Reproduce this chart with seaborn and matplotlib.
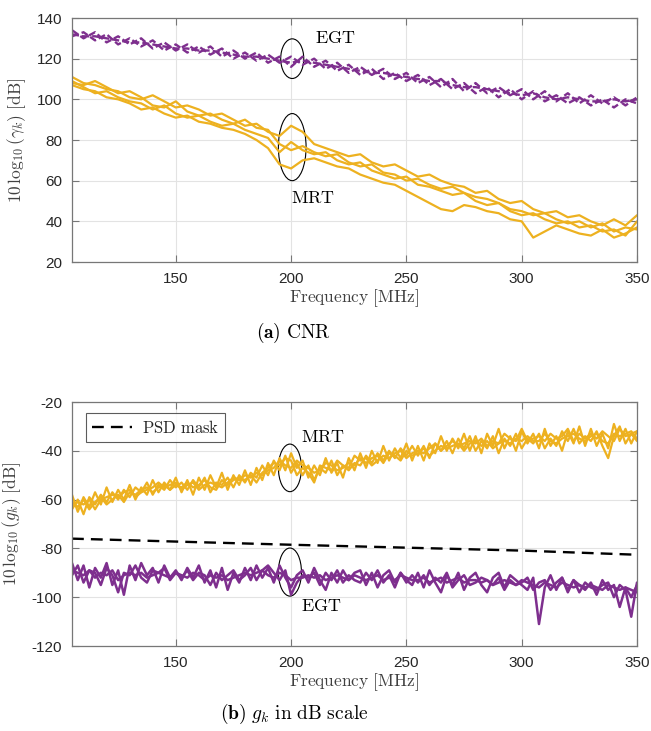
import numpy as np
import pandas as pd
import matplotlib
matplotlib.use("Agg")
import matplotlib.pyplot as plt
import seaborn as sns
from matplotlib.patches import Ellipse

# ---------------- data ----------------
freq_top = np.arange(105, 351, 5)          # 50 points
freq_bot = np.arange(105, 350.1, 2.5)      # 99 points

cnr_mrt_1 = [111, 108, 107, 105, 104, 101, 100, 102, 99, 96,
             97, 95, 92, 93, 90, 87, 88, 84, 82, 87,
             84, 78, 76, 74, 72, 73, 69, 67, 68, 65,
             62, 63, 60, 58, 57, 54, 55, 51, 49, 50,
             46, 44, 45, 42, 43, 40, 38, 41, 38, 43]
cnr_mrt_2 = [108, 107, 109, 106, 103, 104, 101, 97, 96, 99,
             94, 92, 93, 90, 88, 90, 86, 85, 78, 75,
             77, 74, 72, 73, 69, 67, 68, 64, 63, 60,
             61, 58, 56, 57, 54, 52, 51, 49, 46, 45,
             43, 44, 41, 39, 40, 37, 39, 35, 37, 36]
cnr_mrt_3 = [107, 105, 104, 101, 100, 98, 95, 96, 93, 91,
             92, 89, 88, 86, 85, 83, 80, 76, 68, 66,
             70, 71, 69, 67, 66, 63, 61, 59, 58, 55,
             52, 49, 46, 45, 48, 47, 45, 44, 41, 40,
             32, 35, 38, 36, 34, 33, 36, 32, 34, 37]
cnr_mrt_4 = [109, 106, 103, 104, 101, 99, 98, 95, 97, 93,
             91, 92, 89, 87, 88, 85, 83, 81, 74, 79,
             75, 73, 74, 70, 68, 69, 65, 63, 61, 62,
             58, 57, 55, 53, 54, 50, 48, 49, 45, 43,
             44, 41, 39, 40, 37, 38, 35, 36, 33, 40]

cnr_egt_1 = [134, 130, 133, 128, 131, 127, 130, 125, 128, 124,
             127, 123, 126, 121, 124, 120, 123, 118, 121, 116,
             121, 116, 119, 114, 117, 112, 115, 110, 113, 109,
             112, 107, 110, 105, 108, 103, 106, 101, 105, 100,
             104, 99, 102, 98, 101, 97, 100, 96, 100, 98]
cnr_egt_2 = [131, 133, 129, 132, 127, 130, 126, 129, 124, 127,
             123, 126, 122, 125, 120, 123, 119, 122, 118, 121,
             117, 120, 115, 118, 113, 116, 112, 115, 110, 113,
             108, 111, 106, 110, 104, 108, 103, 106, 102, 105,
             100, 104, 99, 103, 98, 102, 98, 101, 97, 101]
cnr_egt_3 = [132, 131, 131, 130, 129, 128, 128, 127, 126, 125,
             125, 124, 124, 123, 122, 121, 121, 120, 119, 118,
             119, 118, 117, 116, 115, 114, 113, 113, 112, 111,
             110, 109, 109, 107, 106, 106, 105, 104, 103, 102,
             103, 101, 100, 101, 100, 99, 99, 100, 99, 100]

g_mrt_1 = [-58, -65, -59, -63, -57, -62, -55, -61, -56, -60,
           -54, -60, -55, -58, -52, -57, -53, -56, -51, -57,
           -52, -58, -51, -56, -50, -55, -49, -56, -50, -54,
           -48, -54, -47, -52, -45, -50, -43, -48, -41, -47,
           -44, -51, -46, -50, -43, -49, -45, -51, -43, -48,
           -41, -47, -40, -45, -38, -44, -39, -43, -37, -44,
           -38, -44, -37, -41, -34, -40, -35, -39, -33, -40,
           -34, -41, -33, -38, -31, -39, -34, -40, -32, -37,
           -33, -39, -31, -38, -34, -40, -32, -37, -30, -38,
           -31, -38, -33, -39, -29, -36, -31, -37, -32]
g_mrt_2 = [-64, -60, -66, -59, -62, -58, -61, -57, -60, -56,
           -59, -55, -57, -53, -58, -54, -56, -52, -55, -53,
           -56, -52, -55, -51, -57, -53, -54, -51, -55, -50,
           -53, -49, -51, -46, -50, -44, -48, -42, -49, -45,
           -50, -46, -52, -47, -49, -44, -50, -46, -48, -45,
           -46, -42, -45, -41, -44, -40, -43, -39, -42, -38,
           -42, -38, -43, -37, -40, -36, -41, -35, -39, -34,
           -40, -36, -39, -34, -41, -35, -38, -33, -39, -35,
           -37, -33, -39, -35, -38, -32, -36, -31, -37, -34,
           -36, -32, -38, -43, -34, -30, -37, -33, -36]
g_mrt_3 = [-61, -63, -60, -64, -61, -59, -62, -60, -58, -61,
           -57, -58, -56, -55, -57, -55, -54, -56, -54, -55,
           -53, -55, -54, -52, -55, -56, -52, -54, -52, -51,
           -52, -50, -53, -49, -47, -45, -46, -43, -44, -50,
           -47, -49, -53, -46, -47, -48, -44, -46, -47, -42,
           -44, -43, -46, -44, -42, -43, -41, -40, -43, -41,
           -40, -41, -39, -37, -40, -38, -36, -38, -37, -36,
           -37, -35, -38, -36, -37, -33, -35, -36, -31, -36,
           -35, -34, -36, -33, -35, -34, -31, -36, -33, -35,
           -33, -35, -32, -34, -36, -31, -34, -33, -32]
g_mrt_4 = [-63, -61, -62, -60, -64, -60, -59, -58, -59, -57,
           -56, -59, -57, -56, -55, -53, -55, -54, -53, -56,
           -54, -53, -56, -54, -53, -54, -55, -53, -51, -52,
           -50, -51, -49, -50, -48, -47, -44, -46, -47, -44,
           -46, -47, -49, -48, -45, -46, -48, -47, -45, -46,
           -43, -45, -43, -42, -45, -41, -42, -44, -40, -42,
           -41, -39, -42, -40, -38, -39, -38, -37, -40, -37,
           -36, -38, -36, -39, -37, -36, -37, -35, -36, -34,
           -36, -36, -33, -36, -37, -35, -34, -33, -35, -36,
           -34, -33, -36, -37, -33, -34, -33, -32, -35]

g_egt_1 = [-86, -93, -87, -96, -88, -92, -86, -95, -89, -99,
           -87, -93, -86, -91, -88, -94, -87, -92, -89, -93,
           -88, -92, -87, -94, -89, -96, -88, -97, -90, -94,
           -88, -93, -87, -92, -88, -94, -87, -92, -96, -91,
           -89, -94, -88, -93, -97, -90, -94, -89, -93, -90,
           -89, -95, -90, -96, -91, -89, -94, -90, -93, -95,
           -90, -96, -89, -94, -98, -91, -95, -90, -97, -92,
           -90, -95, -98, -92, -90, -96, -91, -93, -95, -97,
           -92, -111, -96, -91, -97, -92, -98, -93, -95, -97,
           -94, -99, -93, -97, -95, -104, -96, -100, -95]
g_egt_2 = [-91, -87, -94, -89, -90, -95, -88, -91, -98, -90,
           -91, -87, -92, -94, -89, -90, -88, -93, -90, -92,
           -89, -93, -90, -91, -95, -90, -93, -91, -89, -93,
           -91, -88, -93, -89, -87, -90, -93, -89, -99, -94,
           -91, -92, -90, -95, -90, -93, -89, -94, -91, -93,
           -94, -90, -93, -89, -94, -91, -96, -90, -94, -91,
           -94, -91, -95, -92, -94, -90, -96, -93, -91, -95,
           -94, -92, -93, -95, -92, -97, -93, -95, -94, -92,
           -97, -94, -93, -97, -94, -92, -97, -93, -98, -94,
           -96, -97, -95, -94, -100, -95, -97, -108, -94]
g_egt_3 = [-89, -90, -91, -89, -92, -90, -91, -89, -93, -91,
           -90, -91, -90, -92, -91, -90, -91, -92, -90, -91,
           -92, -90, -91, -93, -91, -92, -91, -93, -92, -91,
           -90, -91, -90, -89, -91, -92, -90, -91, -93, -92,
           -92, -91, -92, -91, -93, -92, -91, -92, -93, -91,
           -92, -93, -92, -91, -93, -92, -93, -91, -92, -93,
           -93, -92, -94, -93, -92, -94, -93, -92, -94, -93,
           -93, -94, -93, -95, -94, -93, -94, -95, -93, -94,
           -95, -96, -94, -95, -96, -94, -95, -96, -95, -96,
           -95, -96, -97, -95, -96, -97, -96, -97, -98]

mask_freq = [105, 150, 200, 250, 300, 350]
mask_db = [-76.0, -77.2, -78.5, -79.7, -80.9, -82.6]

x_ticks = [150, 200, 250, 300, 350]
y_ticks_top = [20, 40, 60, 80, 100, 120, 140]
y_ticks_bot = [-120, -100, -80, -60, -40, -20]

# ---------------- style ----------------
sns.set_theme(style="white")
plt.rcParams["font.family"] = ["Liberation Sans", "DejaVu Sans"]
plt.rcParams["mathtext.fontset"] = "cm"
plt.rcParams["axes.unicode_minus"] = False

YEL = "#EDB120"
PUR = "#7E2F8E"
TXT = "#262626"

fig = plt.figure(figsize=(6.51, 7.31), dpi=100)
ax1 = fig.add_axes([72 / 651, 1 - 262 / 731, 565 / 651, 244 / 731])
ax2 = fig.add_axes([72 / 651, 1 - 646 / 731, 565 / 651, 244 / 731])

for s in [cnr_mrt_1, cnr_mrt_2, cnr_mrt_3, cnr_mrt_4]:
    sns.lineplot(x=freq_top, y=s, ax=ax1, color=YEL, linewidth=1.6,
                 estimator=None, sort=False, legend=False)
for s in [cnr_egt_1, cnr_egt_2, cnr_egt_3]:
    sns.lineplot(x=freq_top, y=s, ax=ax1, color=PUR, linewidth=1.7,
                 linestyle=(0, (3, 1.3)), estimator=None, sort=False, legend=False)

for s in [g_mrt_1, g_mrt_2, g_mrt_3, g_mrt_4]:
    sns.lineplot(x=freq_bot, y=s, ax=ax2, color=YEL, linewidth=1.6,
                 estimator=None, sort=False, legend=False)
for s in [g_egt_1, g_egt_2, g_egt_3]:
    sns.lineplot(x=freq_bot, y=s, ax=ax2, color=PUR, linewidth=1.8,
                 estimator=None, sort=False, legend=False)
sns.lineplot(x=mask_freq, y=mask_db, ax=ax2, color="black", linewidth=1.7,
             linestyle=(0, (5, 3)), estimator=None, sort=False,
             label=r"$\mathrm{PSD\ mask}$")

for ax, yt, ylab in [(ax1, y_ticks_top, r"$10\,\log_{10}(\gamma_k)\ \mathrm{[dB]}$"),
                     (ax2, y_ticks_bot, r"$10\,\log_{10}(g_k)\ \mathrm{[dB]}$")]:
    ax.set_xlim(105, 350)
    ax.set_ylim(yt[0], yt[-1])
    ax.set_xticks(x_ticks)
    ax.set_yticks(yt)
    ax.set_yticklabels([str(v) for v in yt])
    ax.grid(True, color="#e3e3e3", linewidth=0.8)
    ax.set_axisbelow(True)
    ax.tick_params(direction="in", length=5, width=0.8, colors="#777777",
                   labelcolor=TXT, labelsize=11, top=True, right=True,
                   bottom=True, left=True, pad=7)
    for sp in ax.spines.values():
        sp.set_color("#777777")
        sp.set_linewidth(0.9)
    ax.set_xlabel(r"$\mathrm{Frequency\ [MHz]}$", fontsize=12.5, color="#404040", labelpad=1)
    ax.set_ylabel(ylab, fontsize=12.5, color="#404040", labelpad=6)

# annotations
ax1.add_patch(Ellipse((200.5, 120), 10, 19.5, fill=False, edgecolor="black", linewidth=0.8))
ax1.text(210.5, 130, r"$\mathrm{EGT}$", fontsize=13, ha="left", va="center", color="black")
ax1.add_patch(Ellipse((200.5, 76.5), 12, 33, fill=False, edgecolor="black", linewidth=0.8))
ax1.text(209.5, 51, r"$\mathrm{MRT}$", fontsize=13, ha="center", va="center", color="black")

ax2.add_patch(Ellipse((199.5, -47), 10, 19.5, fill=False, edgecolor="black", linewidth=0.8))
ax2.text(204.5, -34.5, r"$\mathrm{MRT}$", fontsize=13, ha="left", va="center", color="black")
ax2.add_patch(Ellipse((199.5, -89.7), 10, 19.7, fill=False, edgecolor="black", linewidth=0.8))
ax2.text(204.5, -104, r"$\mathrm{EGT}$", fontsize=13, ha="left", va="center", color="black")

leg = ax2.legend(loc="upper left", bbox_to_anchor=(0.025, 0.955), borderaxespad=0,
                 fancybox=False, frameon=True, fontsize=12, handlelength=2.4,
                 handletextpad=0.6, borderpad=0.35)
leg.get_frame().set_edgecolor("#333333")
leg.get_frame().set_linewidth(0.8)

fig.text(293 / 651, 1 - 333 / 731, r"$\mathbf{(a)}\ \mathrm{CNR}$", fontsize=14,
         ha="center", va="center", color="black")
fig.text(294 / 651, 1 - 714 / 731, r"$\mathbf{(b)}\ g_k\ \mathrm{in\ dB\ scale}$", fontsize=14,
         ha="center", va="center", color="black")

fig.savefig("out.png", dpi=100)
